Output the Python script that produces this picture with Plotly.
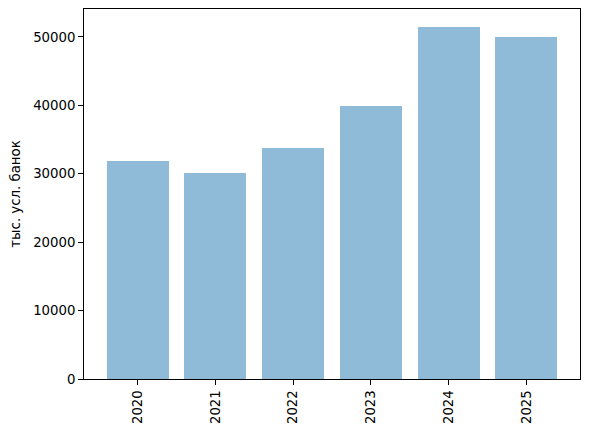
import plotly.graph_objects as go

years = ["2020", "2021", "2022", "2023", "2024", "2025"]
values = [31900, 30100, 33800, 39900, 51500, 50000]
y_ticks = [0, 10000, 20000, 30000, 40000, 50000]
y_label = "тыс. усл. банок"

fig = go.Figure()
fig.add_trace(go.Bar(
    x=list(range(len(years))), y=values, width=0.8,
    marker=dict(color="rgba(31,119,180,0.5)", line=dict(width=0)),
))

fig.update_layout(
    width=589, height=434, autosize=False,
    margin=dict(l=84, r=8.5, t=9.3, b=55),
    plot_bgcolor="white", paper_bgcolor="white",
    font=dict(family="DejaVu Sans", size=13.3, color="black"),
    showlegend=False,
    bargap=0,
)
fig.update_xaxes(
    range=[-0.69, 5.69], tickvals=list(range(len(years))), ticktext=years,
    tickangle=-90, ticks="outside", ticklen=4.9, tickwidth=1, tickcolor="black",
    showline=True, linecolor="black", linewidth=1, mirror=True,
    showgrid=False, zeroline=False,
)
fig.update_yaxes(
    range=[0, 54075], tickvals=y_ticks, ticktext=[str(v) for v in y_ticks],
    ticks="outside", ticklen=4.9, tickwidth=1, tickcolor="black",
    showline=True, linecolor="black", linewidth=1, mirror=True,
    showgrid=False, zeroline=False,
    title=dict(text=y_label, standoff=9,
               font=dict(family="DejaVu Sans", size=13.3, color="black")),
)
fig.write_html("out.html")
